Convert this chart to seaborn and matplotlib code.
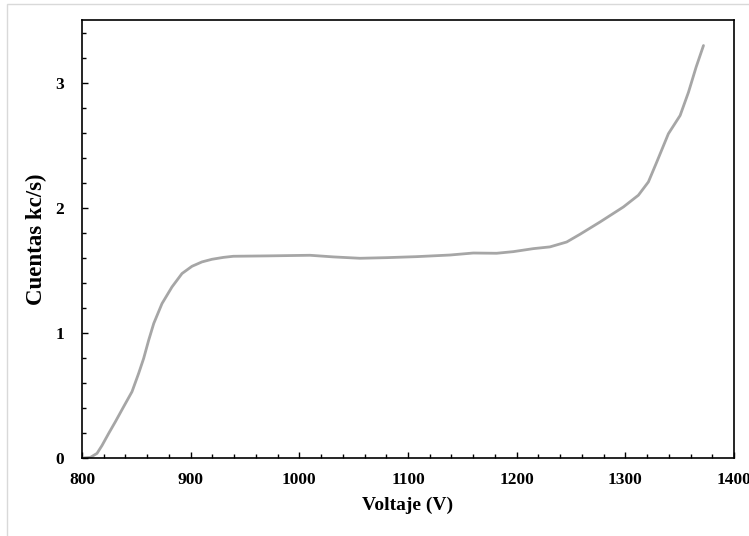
import pandas as pd
import seaborn as sns
import matplotlib.pyplot as plt
from matplotlib.patches import Rectangle
from matplotlib.ticker import MultipleLocator

voltaje = [800, 807.7, 813.8, 818.4, 824.5, 830.7, 838.3, 846.0, 852.1, 856.7,
           861.3, 866.0, 873.6, 882.8, 892.0, 901.2, 910.4, 919.6, 930, 939.2,
           969.9, 1009.8, 1031.2, 1055.8, 1080.3, 1107.9, 1138.6, 1160.0, 1181.5,
           1196.9, 1215.3, 1230.6, 1246.0, 1258.3, 1276.7, 1298.2, 1312.0, 1321.2,
           1328.9, 1339.6, 1350.4, 1358.1, 1365.1, 1371.9]
cuentas = [0.0, 0.005, 0.037, 0.10, 0.196, 0.29, 0.41, 0.53, 0.676, 0.795,
           0.94, 1.075, 1.234, 1.367, 1.474, 1.532, 1.567, 1.588, 1.603, 1.612,
           1.615, 1.62, 1.607, 1.596, 1.601, 1.609, 1.622, 1.638, 1.636,
           1.649, 1.673, 1.687, 1.726, 1.788, 1.886, 2.006, 2.10, 2.206,
           2.365, 2.591, 2.737, 2.923, 3.123, 3.296]

df = pd.DataFrame({"voltaje": voltaje, "cuentas": cuentas})

sns.set_style("ticks")
plt.rcParams["font.family"] = ["Liberation Serif", "DejaVu Serif"]
plt.rcParams["text.color"] = "black"
plt.rcParams["axes.labelcolor"] = "black"

fig, ax = plt.subplots(figsize=(7.49, 5.36), dpi=100)
fig.subplots_adjust(left=0.1095, right=0.98, bottom=0.1455, top=0.9627)

# light frame around the figure
fig.patches.append(Rectangle((7 / 749, -0.05), 1.2, (532 / 536) + 0.05, transform=fig.transFigure,
                             fill=False, edgecolor="#d9d9d9", linewidth=1.0, zorder=0))

sns.lineplot(data=df, x="voltaje", y="cuentas", ax=ax, color="#a6a6a6", linewidth=2.0,
             sort=False, solid_joinstyle="round", solid_capstyle="round")

ax.set_xlim(800, 1400)
ax.set_ylim(0, 3.5)
ax.xaxis.set_major_locator(MultipleLocator(100))
ax.xaxis.set_minor_locator(MultipleLocator(20))
ax.yaxis.set_major_locator(MultipleLocator(1))
ax.yaxis.set_minor_locator(MultipleLocator(0.2))
ax.tick_params(which="both", direction="in", width=1.0, labelsize=12.5,
               color="black", labelcolor="black")
ax.tick_params(which="major", length=4)
ax.tick_params(axis="x", which="major", pad=10)
ax.tick_params(axis="y", which="major", pad=13)
ax.tick_params(which="minor", length=3)
for lab in ax.get_xticklabels() + ax.get_yticklabels():
    lab.set_fontweight("bold")
for s in ax.spines.values():
    s.set_linewidth(1.2)
    s.set_color("black")

ax.set_xlabel("Voltaje (V)", fontsize=14, fontweight="bold", labelpad=6, color="black")
ax.set_ylabel("Cuentas kc/s)", fontsize=16.5, fontweight="bold", labelpad=6, color="black")

fig.savefig("out.png", dpi=100)
plt.close(fig)
